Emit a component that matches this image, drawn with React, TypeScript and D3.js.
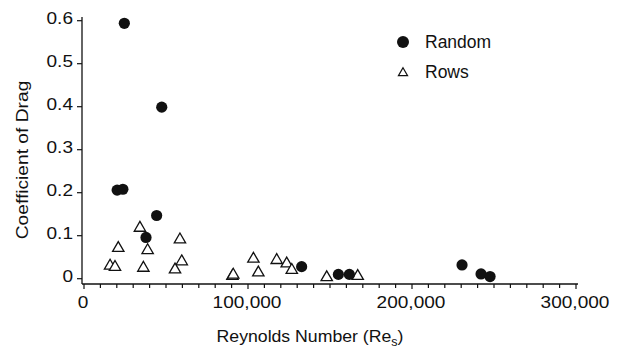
import { useEffect, useRef } from 'react';
import * as d3 from 'd3';

// Reynolds number / drag coefficient
const randomRe = [24600, 47400, 20200, 23700, 44300, 37800, 132700, 155100, 161800, 230500, 242100, 247600];
const randomCd = [0.594, 0.399, 0.206, 0.208, 0.147, 0.096, 0.028, 0.010, 0.010, 0.032, 0.011, 0.005];

const rowsRe = [34100, 20900, 38800, 58500, 59600, 15900, 18900, 36200, 55500, 90500, 91000, 103300, 106300, 117500, 123600, 126700, 148000, 166900];
const rowsCd = [0.118, 0.071, 0.066, 0.091, 0.040, 0.030, 0.027, 0.025, 0.021, 0.006, 0.009, 0.046, 0.014, 0.043, 0.035, 0.020, 0.003, 0.006];

const xTickLabels = ['0', '100,000', '200,000', '300,000'];
const yTickLabels = ['0', '0.1', '0.2', '0.3', '0.4', '0.5', '0.6'];
const seriesNames = ['Random', 'Rows'];

const FONT = '"Liberation Sans", Arial, sans-serif';
const INK = '#111';

function DragChart() {
    const svgRef = useRef<SVGSVGElement | null>(null);

    useEffect(() => {
        if (!svgRef.current) return;
        const svg = d3.select(svgRef.current);
        svg.selectAll('*').remove();

        const x = d3.scaleLinear().domain([0, 300000]).range([84, 576]);
        const y = d3.scaleLinear().domain([0, 0.6]).range([278.7, 20.7]);
        const axisY = 284; // x axis sits a little below zero
        const axisX = 82;

        const circle = d3.symbol().type(d3.symbolCircle).size(Math.PI * 5.6 * 5.6);
        const triangle = d3.symbol().type(d3.symbolTriangle).size(56);

        // the original lettering is a bit wider than Arial, so stretch it sideways
        const label = (px: number, py: number, str: string, anchor: string, stretch: number, rotate = 0) =>
            svg.append('g')
                .attr('transform', `translate(${px},${py}) rotate(${rotate}) scale(${stretch},1)`)
                .append('text')
                .attr('text-anchor', anchor)
                .attr('font-family', FONT)
                .attr('font-size', '17px')
                .attr('fill', INK)
                .text(str);

        // axis lines
        svg.append('line')
            .attr('x1', axisX).attr('x2', axisX)
            .attr('y1', 17).attr('y2', axisY)
            .attr('stroke', INK).attr('stroke-width', 1.3);
        svg.append('line')
            .attr('x1', axisX).attr('x2', 578)
            .attr('y1', axisY).attr('y2', axisY)
            .attr('stroke', INK).attr('stroke-width', 1.3);

        // x ticks every 10,000, labels every 100,000
        d3.range(0, 300001, 10000).forEach(v => {
            svg.append('line')
                .attr('x1', x(v)).attr('x2', x(v))
                .attr('y1', axisY).attr('y2', axisY + (v % 100000 === 0 ? 5 : 4))
                .attr('stroke', INK).attr('stroke-width', 1.2);
        });
        xTickLabels.forEach((t, i) => label(x(i * 100000) - 1, 308, t, 'middle', 1.12));

        // y ticks
        yTickLabels.forEach((t, i) => {
            const v = i / 10;
            svg.append('line')
                .attr('x1', axisX - 5).attr('x2', axisX)
                .attr('y1', y(v)).attr('y2', y(v))
                .attr('stroke', INK).attr('stroke-width', 1.2);
            label(73, y(v) + 3, t, 'end', 1.12);
        });

        // axis titles
        const xTitle = label(310, 342, '', 'middle', 1.04);
        xTitle.append('tspan').text('Reynolds Number (Re');
        xTitle.append('tspan').attr('font-size', '12px').attr('dy', 4).text('s');
        xTitle.append('tspan').attr('dy', -4).text(')');

        label(28, 160, 'Coefficient of Drag', 'middle', 1.13, -90);

        // Rows: open triangles
        rowsRe.forEach((re, i) => {
            svg.append('path')
                .attr('d', triangle()!)
                .attr('transform', `translate(${x(re)},${y(rowsCd[i])})`)
                .attr('fill', 'white')
                .attr('stroke', INK)
                .attr('stroke-width', 1.3);
        });

        // Random: filled circles
        randomRe.forEach((re, i) => {
            svg.append('path')
                .attr('d', circle()!)
                .attr('transform', `translate(${x(re)},${y(randomCd[i])})`)
                .attr('fill', INK);
        });

        // legend
        const legend = svg.append('g').attr('transform', 'translate(403,0)');
        legend.append('path')
            .attr('d', d3.symbol().type(d3.symbolCircle).size(Math.PI * 36)()!)
            .attr('transform', 'translate(0,42)')
            .attr('fill', INK);
        legend.append('path')
            .attr('d', d3.symbol().type(d3.symbolTriangle).size(36)()!)
            .attr('transform', 'translate(0,73)')
            .attr('fill', 'white')
            .attr('stroke', INK)
            .attr('stroke-width', 1.2);
        seriesNames.forEach((name, i) => {
            legend.append('text')
                .attr('x', 22)
                .attr('y', 48 + i * 30)
                .attr('font-family', FONT)
                .attr('font-size', '17.5px')
                .attr('fill', INK)
                .text(name);
        });

        return () => {
            d3.select(svgRef.current).selectAll('*').remove();
        };
    }, []);

    return (
        <svg
            ref={svgRef}
            width={619}
            height={350}
            style={{ position: 'absolute', left: 0, top: 0, background: 'white' }}
        />
    );
}

export default function App() {
    return <DragChart />;
}
